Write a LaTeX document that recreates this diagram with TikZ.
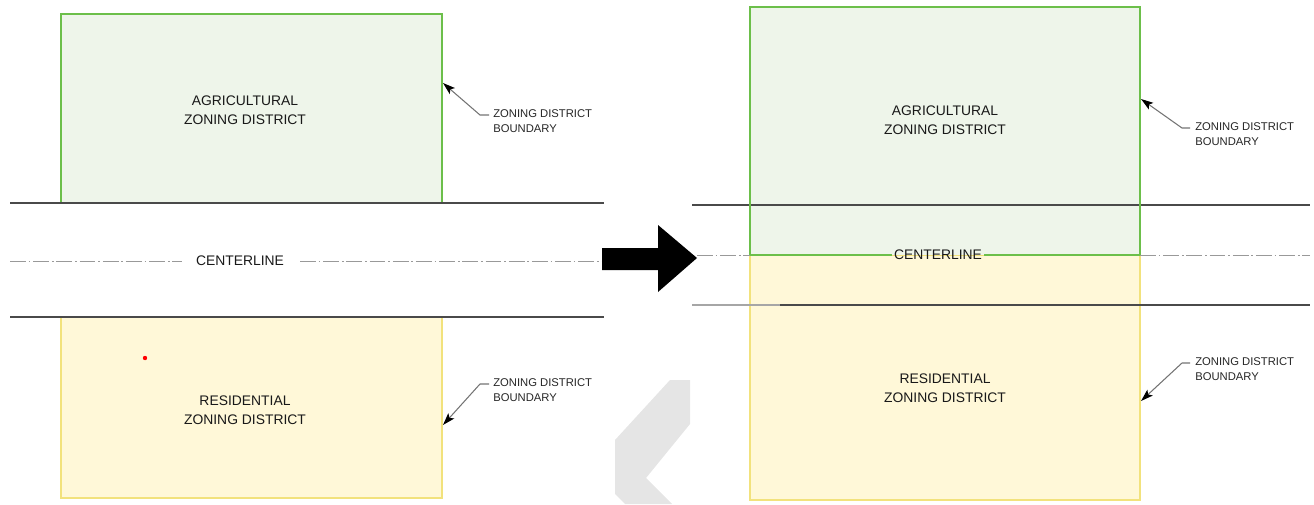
\documentclass[tikz,border=0pt]{standalone}
\usepackage{fontspec}
\setmainfont{Liberation Sans}
\usetikzlibrary{arrows.meta}
\definecolor{agri_line}{HTML}{6CBF4A}
\definecolor{agri_fill}{HTML}{EEF5EA}
\definecolor{resi_line}{HTML}{F2E27C}
\definecolor{resi_fill}{HTML}{FFF8D8}
\definecolor{road_gray}{HTML}{4A4A4A}
\definecolor{mark_gray}{HTML}{E5E5E5}
\tikzstyle{agri_zone} = [
    fill=agri_fill, 
    draw=agri_line, 
    line width=0.8pt
]
\tikzstyle{resi_zone} = [
    fill=resi_fill, 
    draw=resi_line, 
    line width=0.8pt
]
\tikzstyle{road_edge} = [
    draw=road_gray, 
    line width=0.8pt
]
\tikzstyle{center_line} = [
    draw=black!40, 
    line width=0.5pt, 
    dash pattern=on 9pt off 1.6pt on 1pt off 1.6pt
]
\tikzstyle{zone_label} = [
    align=center, 
    text=black!90, 
    font=\fontsize{7.9}{10.8}\selectfont
]
\tikzstyle{note_label} = [
    anchor=north west, 
    align=left, 
    inner sep=0pt, 
    text=black!85, 
    font=\fontsize{6.4}{8.5}\selectfont
]
\tikzstyle{leader} = [
    draw=black!55, 
    line width=0.6pt, 
    -{Stealth[length=7pt,width=4.5pt,inset=1.5pt,black]}
]

\begin{document}
\begin{tikzpicture}[x=0.02cm, y=-0.02cm]
\useasboundingbox (0,0) rectangle (1314,504);

% before: the two districts stop at the road edges
\draw[agri_zone] (61,14) rectangle (442,203);
\draw[resi_zone] (61,317) rectangle (442,498);
\draw[road_edge] (10,203) -- (604,203);
\draw[road_edge] (10,317) -- (604,317);
\node[zone_label] (agri_a) at (245,110) {AGRICULTURAL\\ZONING DISTRICT};
\node[zone_label] (resi_a) at (245,410) {RESIDENTIAL\\ZONING DISTRICT};
\node[zone_label, inner sep=1pt] (cl_a) at (240,261) {CENTERLINE};
\coordinate (cl_a_w) at (10,261);
\coordinate (cl_a_e) at (605,261);
\draw[center_line] (cl_a_w) -- (182,261);
\draw[center_line] (300,261) -- (cl_a_e);
\fill[red] (145,358) circle (2.2);

\node[note_label] (bnd_a) at (493,109) {ZONING DISTRICT\\BOUNDARY};
\node[note_label] (bnd_b) at (493,378) {ZONING DISTRICT\\BOUNDARY};
\coordinate (tip_a) at (443,83);
\coordinate (tip_b) at (443,425);
\draw[leader] ([shift={(-4,6)}]bnd_a.north west) -- ++(-9,0) -- (tip_a);
\draw[leader] ([shift={(-4,6)}]bnd_b.north west) -- ++(-9,0) -- (tip_b);

% big arrow
\fill[black] (602,248) -- (658,248) -- (658,225) -- (697,258)
    -- (658,292) -- (658,270) -- (602,270) -- cycle;

% grey mark under the arrow
\fill[mark_gray] (670,380) -- (690,380) -- (690,424) -- (646,478)
    -- (672,504) -- (625,504) -- (615,494) -- (615,440) -- cycle;

% after: both districts run to the centerline
\fill[resi_fill] (750,255) rectangle (1140,500);
\draw[resi_line, line width=0.8pt] (750,255) rectangle (1140,500);
\fill[agri_fill] (750,7) rectangle (1140,255);
\draw[road_edge] (692,205) -- (1310,205);
\draw[road_edge, draw=black!35] (692,305) -- (780,305);
\draw[road_edge] (780,305) -- (1310,305);
\node[zone_label, inner sep=1pt] (cl_b) at (938,255) {CENTERLINE};
\draw[agri_line, line width=0.8pt] (cl_b.west) -- (750,255) -- (750,7)
    -- (1140,7) -- (1140,255) -- (cl_b.east);
\coordinate (cl_b_w) at (697,255);
\coordinate (cl_b_e) at (1310,255);
\draw[center_line] (cl_b_w) -- (750,255);
\draw[center_line] (1140,255) -- (cl_b_e);
\node[zone_label] (agri_b) at (945,120) {AGRICULTURAL\\ZONING DISTRICT};
\node[zone_label] (resi_b) at (945,388) {RESIDENTIAL\\ZONING DISTRICT};

\node[note_label] (bnd_c) at (1195,122) {ZONING DISTRICT\\BOUNDARY};
\node[note_label] (bnd_d) at (1195,357) {ZONING DISTRICT\\BOUNDARY};
\coordinate (tip_c) at (1141,99);
\coordinate (tip_d) at (1141,401);
\draw[leader] ([shift={(-5,6)}]bnd_c.north west) -- ++(-8,0) -- (tip_c);
\draw[leader] ([shift={(-5,6)}]bnd_d.north west) -- ++(-8,0) -- (tip_d);
\end{tikzpicture}
\end{document}
